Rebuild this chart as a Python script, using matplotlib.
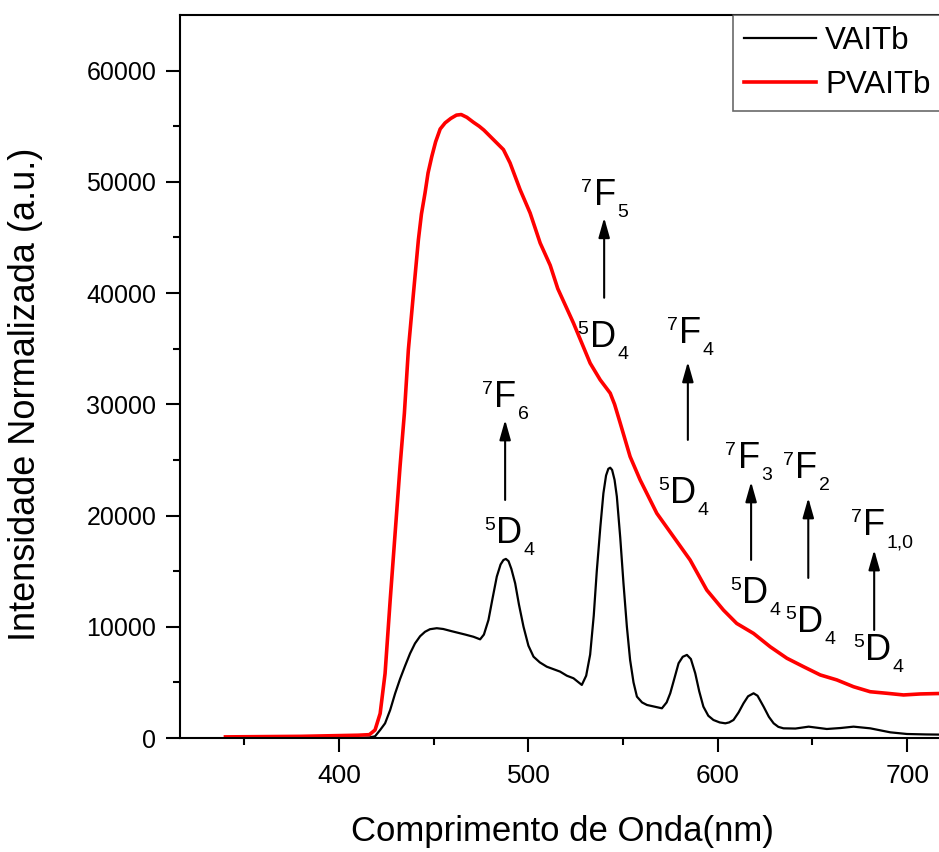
import matplotlib
matplotlib.use('Agg')
import matplotlib.pyplot as plt

plt.rcParams['font.family'] = ['Liberation Sans', 'DejaVu Sans']

# VAITb emission spectrum (nm, a.u.)
vaitb_nm = [340, 380, 410, 416, 419, 421.7, 424.3, 427, 429.6, 432.2, 434.9, 437.5, 440.1,
            442.8, 445.4, 448, 451.6, 455, 459.5, 466.6, 471, 474.5, 476.5, 478.9, 481,
            483.3, 485.3, 486.8, 488.1, 489.5, 491, 493, 495, 497.4, 500, 502.7, 506,
            509.7, 516.7, 520.3, 523.8, 528.2, 530.5, 532.6, 534.5, 536.1, 538, 539.6, 541,
            542.2, 543.2, 544.2, 545.5, 546.7, 548.5, 550.2, 552, 553.7, 555.5, 557.3, 560,
            562.6, 570.5, 573, 574.9, 577, 579.3, 581.5, 583.7, 585.8, 588.1, 590.2, 592.4,
            595, 597.7, 601, 604, 606, 608.3, 611, 613.6, 616, 618.9, 621, 624.2, 627,
            629.5, 632, 634.7, 641, 648, 657.6, 665, 671.7, 680.5, 691.1, 699.9, 710, 720]
vaitb_val = [0, 0, 0, 50, 150, 720, 1320, 2520, 4000, 5300, 6500, 7600, 8500,
             9150, 9550, 9780, 9870, 9800, 9600, 9300, 9100, 8870, 9300, 10610, 12500,
             14510, 15600, 16000, 16100, 15900, 15200, 13910, 12000, 10010, 8300, 7310, 6800,
             6410, 5970, 5600, 5370, 4770, 5600, 7500, 11000, 15000, 19000, 22000, 23600,
             24200, 24300, 24100, 23200, 21710, 18000, 13910, 10000, 7020, 5000, 3720, 3200,
             2970, 2670, 3200, 4020, 5300, 6720, 7300, 7470, 7100, 5820, 4200, 2820,
             2000, 1620, 1400, 1320, 1400, 1620, 2300, 3120, 3750, 4020, 3800, 2820, 1900,
             1320, 1000, 870, 850, 1020, 810, 900, 1020, 870, 510, 360, 320, 300]

# PVAITb emission spectrum (nm, a.u.)
pvaitb_nm = [340, 380, 410, 416, 419, 421.7, 424.3, 427, 429.6, 432.2, 434.5, 436.6, 439.3,
             441.9, 443.5, 445.4, 447, 449, 451, 453.4, 456, 459, 462, 464.5, 467.5, 471,
             474, 476.5, 481.5, 486.8, 490.3, 495.6, 500.9, 506.2, 511.5, 515.5, 523.8,
             532.6, 537.9, 541, 543.2, 545.5, 548.5, 553.7, 559, 567.8, 576.6, 585.4, 594.2,
             603, 610, 618.9, 627.7, 636.5, 645.3, 654.1, 662.9, 671.7, 680.5, 689.3, 698.1,
             706.9, 717, 720]
pvaitb_val = [100, 150, 250, 300, 720, 2200, 5800, 12400, 18400, 24400, 29200, 34900, 40000,
              44800, 47100, 49000, 50800, 52300, 53600, 54750, 55300, 55700, 56000, 56050, 55800,
              55350, 55000, 54650, 53800, 52900, 51700, 49300, 47200, 44500, 42500, 40400, 37300,
              33700, 32200, 31500, 31000, 30000, 28300, 25300, 23200, 20200, 18100, 16000, 13300,
              11500, 10300, 9400, 8200, 7170, 6410, 5670, 5220, 4610, 4160, 4020, 3870,
              3960, 4000, 4000]

# 7F_J levels (upper labels), arrows, and 5D4 levels (lower labels)
upper_sub = ['6', '5', '4', '3', '2', '1,0']
upper_x = [487.7, 540.3, 585.4, 616.3, 646.7, 682.6]
upper_y = [29775, 47945, 35530, 24290, 23390, 18260]
arrow_x = [487.7, 540, 584.2, 617.6, 647.8, 682.6]
arrow_tail = [21400, 39580, 26800, 16010, 14390, 9710]
arrow_tip = [28600, 46780, 33820, 23030, 21590, 16910]
lower_x = [489.8, 539.2, 581.7, 619.8, 648.8, 684.7]
lower_y = [17540, 35170, 21140, 12140, 9530, 7020]

fig = plt.figure(figsize=(9.39, 8.52), dpi=100)
ax = fig.add_axes([180 / 939, 114 / 852, 765 / 939, 723 / 852])

ax.plot(vaitb_nm, vaitb_val, color='black', lw=1.6, label='VAITb')
ax.plot(pvaitb_nm, pvaitb_val, color='red', lw=2.6, label='PVAITb')


def level(x, y, base, sup, sub):
    t = ax.text(x, y, base, ha='center', va='baseline', fontsize=26)
    ax.annotate(sup, xy=(0, y), xycoords=(t, 'data'), xytext=(-1, 9),
                textcoords='offset points', ha='right', va='baseline', fontsize=14)
    ax.annotate(sub, xy=(1, y), xycoords=(t, 'data'), xytext=(1, -9),
                textcoords='offset points', ha='left', va='baseline', fontsize=14)


for s, x, y in zip(upper_sub, upper_x, upper_y):
    level(x, y, 'F', '7', s)
for x, y in zip(lower_x, lower_y):
    level(x, y, 'D', '5', '4')
for x, t0, t1 in zip(arrow_x, arrow_tail, arrow_tip):
    ax.annotate('', xy=(x, t1), xytext=(x, t0),
                arrowprops=dict(arrowstyle='-|>,head_length=0.6,head_width=0.17',
                                color='black', lw=1.5, mutation_scale=20,
                                shrinkA=0, shrinkB=0))

ax.set_xlim(316, 720)
ax.set_ylim(0, 65000)
ax.set_xticks([400, 500, 600, 700])
ax.set_xticks([350, 450, 550, 650], minor=True)
ax.set_yticks(range(0, 60001, 10000))
ax.set_yticks(range(5000, 60001, 10000), minor=True)
ax.tick_params(which='major', direction='out', length=10, width=1.5, labelsize=18, pad=7)
ax.tick_params(axis='x', which='major', labelsize=19, pad=9)
ax.tick_params(which='minor', direction='out', length=5, width=1.5)
for s in ax.spines.values():
    s.set_linewidth(1.5)

ax.set_xlabel('Comprimento de Onda(nm)', fontsize=25)
ax.set_ylabel('Intensidade Normalizada (a.u.)', fontsize=26)
ax.xaxis.set_label_coords(0.5, -0.106)
ax.yaxis.set_label_coords(-0.179, 0.476)

leg = ax.legend(loc='upper left', bbox_to_anchor=(0.723, 1.0), borderaxespad=0,
                fontsize=22.5, frameon=True, fancybox=False, handlelength=2.3,
                handletextpad=0.3, labelspacing=0.45, borderpad=0.35)
leg.get_frame().set_edgecolor('#444444')
leg.get_frame().set_linewidth(1.2)

fig.savefig('out.png', dpi=100)
